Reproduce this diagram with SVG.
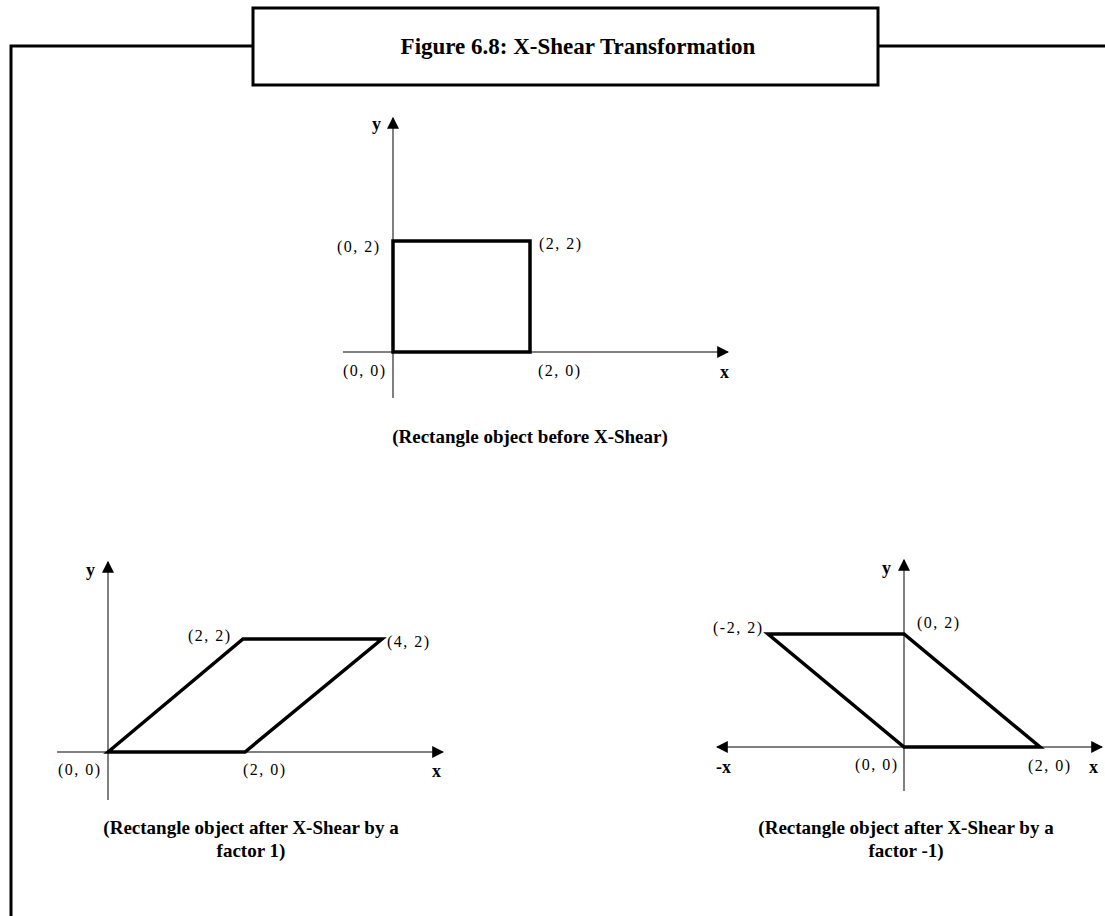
<svg xmlns="http://www.w3.org/2000/svg" width="1105" height="916" viewBox="0 0 1105 916">
<style>
.frame{fill:none;stroke:#000;stroke-width:3}
.axis{fill:none;stroke:#808080;stroke-width:2}
.shape{fill:none;stroke:#000;stroke-width:3.5;stroke-linejoin:miter}
.lbl{font-family:"Liberation Serif",serif;font-size:16px;letter-spacing:1.5px;fill:#000}
.ax{font-family:"Liberation Serif",serif;font-weight:bold;font-size:18px;fill:#000}
.cap{font-family:"Liberation Serif",serif;font-weight:bold;font-size:19px;fill:#000;text-anchor:middle}
.title{font-family:"Liberation Serif",serif;font-weight:bold;font-size:23px;fill:#000;text-anchor:middle}
</style>
<defs>
<marker id="ah" viewBox="0 0 10 10" refX="9" refY="5" markerWidth="12" markerHeight="12" markerUnits="userSpaceOnUse" orient="auto-start-reverse">
<path d="M0,0 L10,5 L0,10 Z" fill="#000"/>
</marker>
</defs>
<g id="frame">
<path class="frame" d="M11,916 V46 H253 M878,46 H1105"/>
<rect class="frame" x="253" y="8" width="625" height="77"/>
<text class="title" x="578" y="54">Figure 6.8: X-Shear Transformation</text>
</g>
<g id="connectors">
<line class="axis" x1="393" y1="398" x2="393" y2="118" marker-end="url(#ah)"/>
<line class="axis" x1="343" y1="352" x2="728" y2="352" marker-end="url(#ah)"/>
<line class="axis" x1="108" y1="800" x2="108" y2="562" marker-end="url(#ah)"/>
<line class="axis" x1="57" y1="752" x2="443" y2="752" marker-end="url(#ah)"/>
<line class="axis" x1="904" y1="791" x2="904" y2="560" marker-end="url(#ah)"/>
<line class="axis" x1="717" y1="747" x2="1102" y2="747" marker-start="url(#ah)" marker-end="url(#ah)"/>
</g>
<g id="before">
<rect class="shape" x="393" y="241" width="137" height="111"/>
<text class="ax" x="372" y="130">y</text>
<text class="ax" x="720" y="378">x</text>
<text class="lbl" x="337" y="252">(0, 2)</text>
<text class="lbl" x="539" y="249">(2, 2)</text>
<text class="lbl" x="343" y="376">(0, 0)</text>
<text class="lbl" x="538" y="376">(2, 0)</text>
<text class="cap" x="530" y="443">(Rectangle object before X-Shear)</text>
</g>
<g id="shear1">
<polygon class="shape" points="108,752 243,639 382,639 245,752"/>
<text class="ax" x="86" y="576">y</text>
<text class="ax" x="432" y="777">x</text>
<text class="lbl" x="188" y="641">(2, 2)</text>
<text class="lbl" x="387" y="647">(4, 2)</text>
<text class="lbl" x="58" y="775">(0, 0)</text>
<text class="lbl" x="243" y="775">(2, 0)</text>
<text class="cap" x="251" y="834">(Rectangle object after X-Shear by a</text>
<text class="cap" x="251" y="857">factor 1)</text>
</g>
<g id="shearm1">
<polygon class="shape" points="768,634 904,634 1040,747 904,747"/>
<text class="ax" x="882" y="574">y</text>
<text class="ax" x="1089" y="773">x</text>
<text class="ax" x="716" y="773">-x</text>
<text class="lbl" x="713" y="633">(-2, 2)</text>
<text class="lbl" x="917" y="628">(0, 2)</text>
<text class="lbl" x="855" y="770">(0, 0)</text>
<text class="lbl" x="1028" y="771">(2, 0)</text>
<text class="cap" x="906" y="834">(Rectangle object after X-Shear by a</text>
<text class="cap" x="906" y="857">factor -1)</text>
</g>
</svg>
